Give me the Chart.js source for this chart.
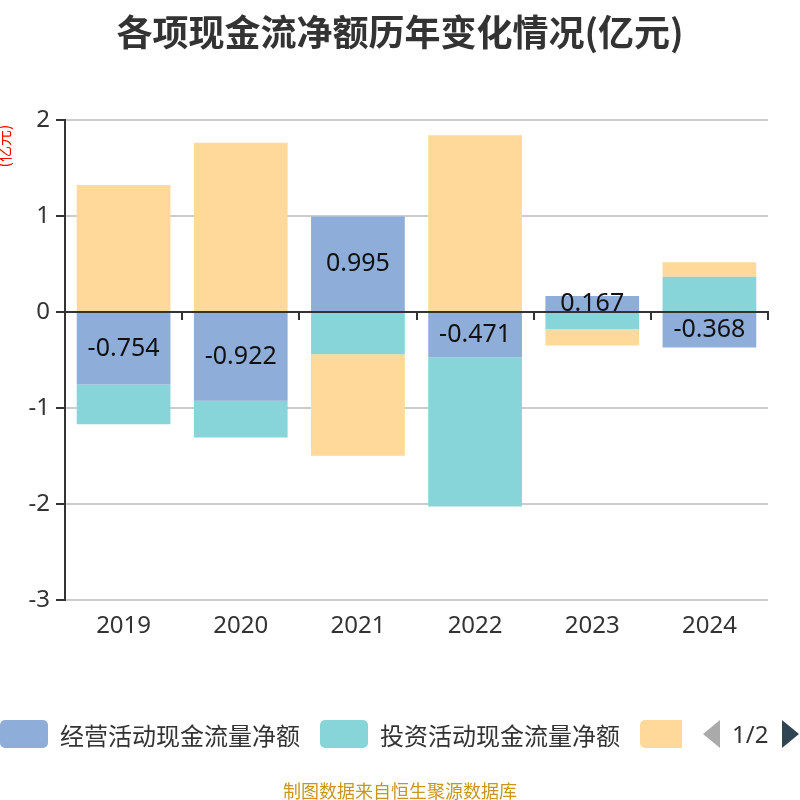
<!DOCTYPE html>
<html>
<head>
<meta charset="utf-8">
<script src="https://cdn.jsdelivr.net/npm/chart.js@4.4.1/dist/chart.umd.min.js"></script>
<style>
  html, body { margin: 0; padding: 0; background: #fff; }
  #wrap { position: relative; width: 800px; height: 800px; overflow: hidden;
          font-family: "Noto Sans", "Noto Sans CJK SC", sans-serif; }
  #chart { position: absolute; left: 0; top: 0; }
  #title { position: absolute; left: 0; width: 800px; top: 4px; text-align: center;
           font-size: 36px; font-weight: bold; color: #333; font-family: "Noto Sans CJK SC", sans-serif; }
  #legend { position: absolute; left: 0; top: 719px; height: 30px; width: 800px; white-space: nowrap; }
  .item { position: absolute; top: 0; height: 30px; display: flex; align-items: center; }
  .box { width: 48px; height: 28px; border-radius: 5px; }
  .lbl { margin-left: 12px; font-size: 24px; color: #333; font-family: "Noto Sans CJK SC", sans-serif; }
  .arrL { position: absolute; top: 1px; left: 703px; width: 0; height: 0;
          border-top: 14px solid transparent; border-bottom: 14px solid transparent; border-right: 17px solid #aaa; }
  .arrR { position: absolute; top: 1px; left: 782px; width: 0; height: 0;
          border-top: 14px solid transparent; border-bottom: 14px solid transparent; border-left: 17px solid #2f4554; }
  .page { position: absolute; left: 732px; top: 0; font-size: 24px; color: #333; line-height: 30px; }
  #foot { position: absolute; left: 0; width: 800px; top: 777px; text-align: center;
          font-size: 18px; color: #c8961e; font-family: "Noto Sans CJK SC", sans-serif; }
</style>
</head>
<body>
<div id="wrap">
  <canvas id="chart" width="800" height="800"></canvas>
  <div id="title">各项现金流净额历年变化情况(亿元)</div>
  <div id="legend"></div>
  <div id="foot">制图数据来自恒生聚源数据库</div>
</div>
<script>
const years = ["2019", "2020", "2021", "2022", "2023", "2024"]
const seriesNames = ["经营活动现金流量净额", "投资活动现金流量净额", "筹资活动现金流量净额"]
const operating = [-0.754, -0.922, 0.995, -0.471, 0.167, -0.368]
const investing = [-0.413, -0.384, -0.44, -1.553, -0.177, 0.368]
const financing = [1.323, 1.764, -1.055, 1.84, -0.17, 0.15]
const yTicks = [2, 1, 0, -1, -2, -3]
const colors = ["#8eadd9", "#87d5d8", "#fed99a"]

// legend (paged like the original: third label cut off)
const legend = document.getElementById("legend")
const legendX = [0, 320, 640]
seriesNames.forEach((name, i) => {
  const item = document.createElement("div")
  item.className = "item"
  item.style.left = legendX[i] + "px"
  const box = document.createElement("div")
  box.className = "box"
  box.style.background = colors[i]
  item.appendChild(box)
  if (i < 2) {
    const lbl = document.createElement("span")
    lbl.className = "lbl"
    lbl.textContent = name
    item.appendChild(lbl)
  } else {
    box.style.width = "42px"
    box.style.borderRadius = "5px 0 0 5px"
  }
  legend.appendChild(item)
})
legend.insertAdjacentHTML("beforeend", '<div class="arrL"></div><div class="page">1/2</div><div class="arrR"></div>')

const valueLabels = {
  id: "valueLabels",
  afterDatasetsDraw(chart) {
    const ctx = chart.ctx
    const meta = chart.getDatasetMeta(0)
    ctx.save()
    ctx.font = "25px 'Noto Sans', sans-serif"
    ctx.fillStyle = "#111"
    ctx.textAlign = "center"
    ctx.textBaseline = "middle"
    meta.data.forEach((bar, i) => {
      ctx.fillText(operating[i].toFixed(3), bar.x, (bar.y + bar.base) / 2)
    })
    ctx.restore()
  }
}

const unitLabel = {
  id: "unitLabel",
  afterDraw(chart) {
    const ctx = chart.ctx
    ctx.save()
    ctx.translate(4, 146)
    ctx.rotate(-Math.PI / 2)
    ctx.font = "16px 'Noto Sans CJK SC', sans-serif"
    ctx.fillStyle = "#ff0000"
    ctx.textAlign = "center"
    ctx.textBaseline = "middle"
    ctx.fillText("(亿元)", 0, 0)
    ctx.restore()
  }
}

const datasets = [operating, investing, financing].map((values, i) => ({
  label: seriesNames[i],
  data: values,
  backgroundColor: colors[i],
  xAxisID: "x",
  barPercentage: 0.8,
  categoryPercentage: 1
}))

new Chart(document.getElementById("chart"), {
  type: "bar",
  data: { labels: years, datasets },
  options: {
    responsive: false,
    animation: false,
    layout: { padding: { top: 120, right: 32, bottom: 147, left: 0 } },
    scales: {
      x: {
        stacked: true,
        position: "bottom",
        grid: { display: false, drawTicks: false },
        border: { display: false },
        ticks: { padding: 12, color: "#333", font: { size: 24, family: "'Noto Sans', sans-serif" } }
      },
      xZero: {
        type: "category",
        position: { y: 0 },
        grid: { offset: true, drawOnChartArea: false, tickLength: 7, color: "#333", lineWidth: 2 },
        border: { color: "#333", width: 2 },
        ticks: { display: false }
      },
      y: {
        stacked: true,
        min: yTicks[yTicks.length - 1],
        max: yTicks[0],
        afterFit(scale) { scale.width = 65 },
        grid: { color: "#cccccc", lineWidth: 2, tickColor: "#333", tickLength: 9 },
        border: { color: "#333", width: 2 },
        ticks: { stepSize: 1, padding: 6, color: "#333", font: { size: 24, family: "'Noto Sans', sans-serif" } }
      }
    },
    plugins: {
      legend: { display: false },
      title: { display: false },
      tooltip: { enabled: false }
    }
  },
  plugins: [valueLabels, unitLabel]
})
</script>
</body>
</html>
